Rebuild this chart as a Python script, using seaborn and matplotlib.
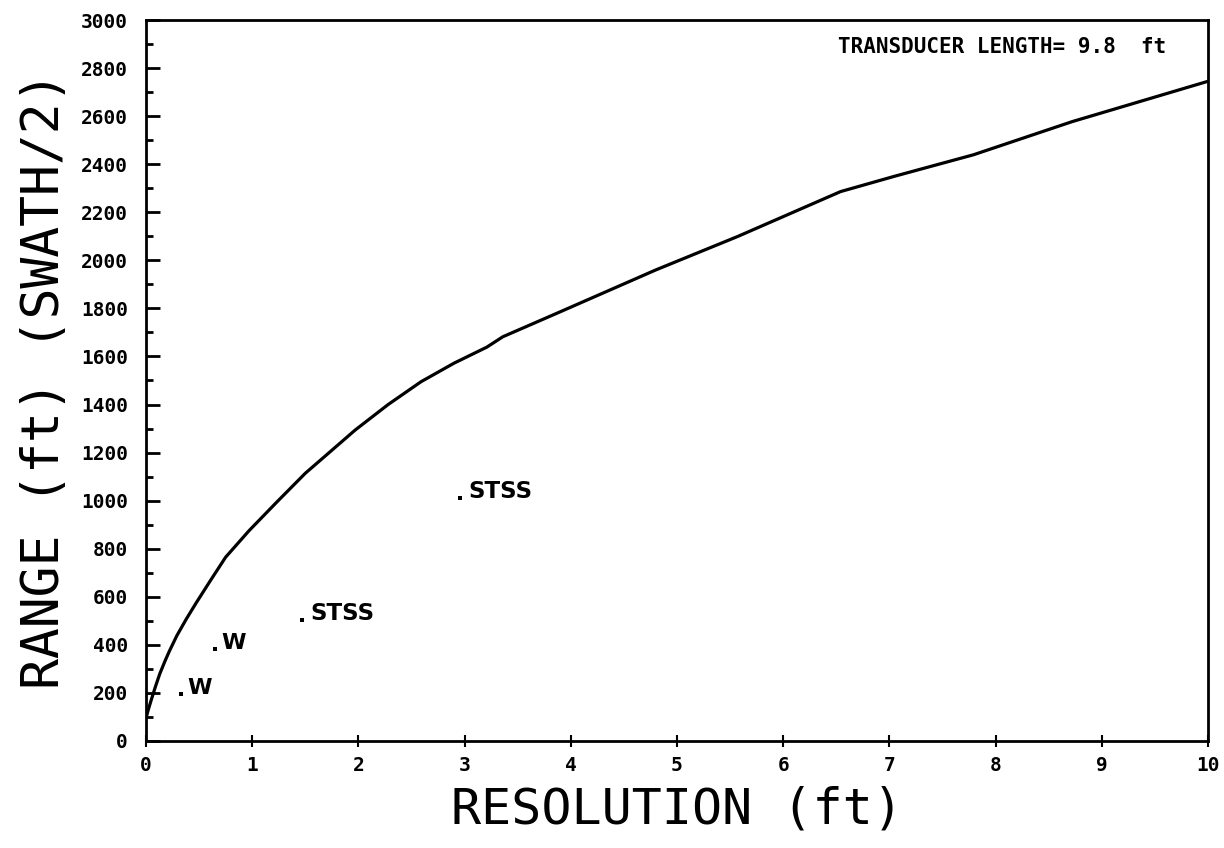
import matplotlib
matplotlib.use("Agg")
import matplotlib.pyplot as plt
from matplotlib.ticker import MultipleLocator, FuncFormatter
import seaborn as sns
import pandas as pd

# Maximum range (half swath) versus along-track resolution
resolution_ft = [0.0, 0.02, 0.05, 0.09, 0.13, 0.18, 0.22, 0.29, 0.38, 0.47,
                 0.61, 0.75, 0.97, 1.22, 1.50, 1.97, 2.28, 2.59, 2.90, 3.21,
                 3.36, 3.87, 4.80, 5.57, 6.54, 7.05, 7.79, 8.72, 10.0]
range_ft = [95, 128, 172, 228, 280, 334, 374, 438, 508, 573,
            670, 765, 875, 989, 1114, 1294, 1400, 1495, 1572, 1639,
            1682, 1780, 1960, 2099, 2286, 2350, 2439, 2577, 2745]

# Individual system operating points
system_names = ["W", "W", "STSS", "STSS"]
system_res = [0.33, 0.65, 1.47, 2.96]
system_range = [194, 381, 503, 1010]

transducer_length = 9.8

sns.set_theme(style="white")
plt.rcParams["font.family"] = ["DejaVu Sans Mono", "DejaVu Sans"]
plt.rcParams["text.color"] = "black"
plt.rcParams["axes.labelcolor"] = "black"
plt.rcParams["xtick.color"] = "black"
plt.rcParams["ytick.color"] = "black"

fig = plt.figure(figsize=(12.24, 8.48), dpi=100)
ax = fig.add_axes([0.1193, 0.1262, 0.8676, 0.8502])

curve = pd.DataFrame({"resolution": resolution_ft, "range": range_ft})
sns.lineplot(data=curve, x="resolution", y="range", color="black",
             linewidth=2.3, ax=ax, sort=True)

systems = pd.DataFrame({"name": system_names, "resolution": system_res,
                        "range": system_range})
sns.scatterplot(data=systems, x="resolution", y="range", color="black",
                s=9, marker="s", linewidth=0, ax=ax)
for name, xv, yv in zip(system_names, system_res, system_range):
    if name == "W":
        ax.annotate(name, (xv, yv), xytext=(4.5, 0), textcoords="offset points",
                    ha="left", va="baseline", fontsize=16, fontweight="bold",
                    family="DejaVu Sans", color="black")
    else:
        ax.annotate(name, (xv, yv), xytext=(6, 0), textcoords="offset points",
                    ha="left", va="baseline", fontsize=16.5, fontweight="bold",
                    family="DejaVu Sans", color="black")

ax.text(0.652, 0.963, f"TRANSDUCER LENGTH= {transducer_length}  ft",
        transform=ax.transAxes, ha="left", va="center", fontsize=15,
        fontweight="bold", family="DejaVu Sans Mono", color="black")

ax.set_xlim(0, 10)
ax.set_ylim(0, 3000)
ax.xaxis.set_major_locator(MultipleLocator(1))
ax.yaxis.set_major_locator(MultipleLocator(200))
ax.yaxis.set_minor_locator(MultipleLocator(100))
ax.xaxis.set_major_formatter(FuncFormatter(lambda v, p: f"{int(round(v))}"))
ax.yaxis.set_major_formatter(FuncFormatter(lambda v, p: f"{int(round(v))}"))

ax.tick_params(axis="y", which="major", direction="in", length=10, width=2,
               left=True, right=False, pad=13, labelsize=14, color="black")
ax.tick_params(axis="y", which="minor", direction="in", length=5, width=2,
               left=True, right=False, color="black")
ax.tick_params(axis="x", which="major", direction="inout", length=9, width=1.5,
               bottom=True, top=False, pad=6, labelsize=14, color="black")
for lab in ax.get_xticklabels() + ax.get_yticklabels():
    lab.set_fontweight("bold")

for side in ["left", "right", "top", "bottom"]:
    ax.spines[side].set_visible(True)
    ax.spines[side].set_color("black")
    ax.spines[side].set_linewidth(2)

ax.set_xlabel("RESOLUTION (ft)", fontsize=36, labelpad=8, fontweight="light")
ax.set_ylabel("RANGE (ft) (SWATH/2)", fontsize=37, labelpad=8, fontweight="light")

fig.savefig("out.png", dpi=100, facecolor="white")
